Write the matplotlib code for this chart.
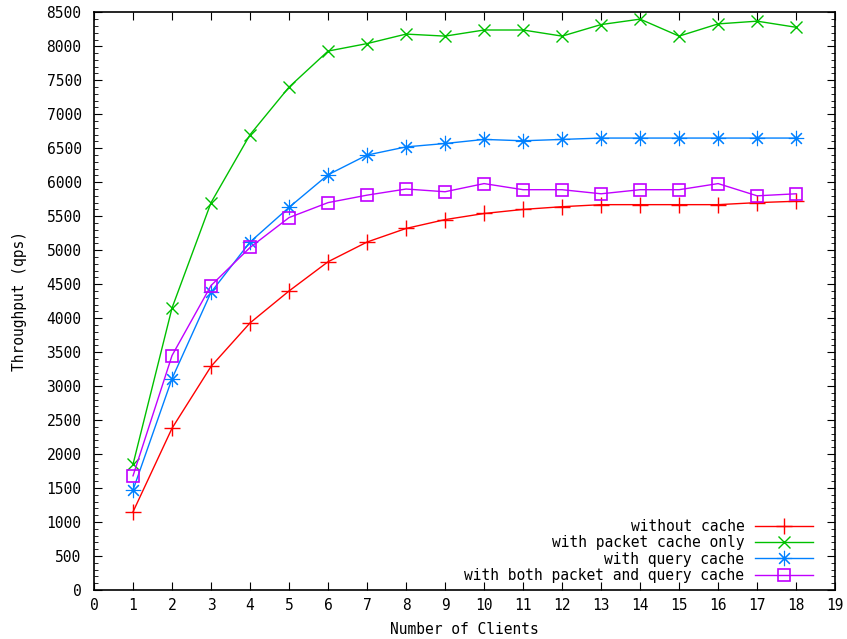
import matplotlib
matplotlib.use('Agg')
import matplotlib.pyplot as plt
from matplotlib.ticker import MultipleLocator

clients = list(range(1, 19))
no_cache = [1150, 2380, 3290, 3930, 4400, 4830, 5120, 5320, 5450, 5540,
            5600, 5640, 5670, 5670, 5670, 5670, 5700, 5720]
packet_cache = [1850, 4150, 5700, 6700, 7400, 7930, 8040, 8180, 8150, 8240,
                8240, 8150, 8320, 8400, 8150, 8330, 8370, 8280]
query_cache = [1470, 3110, 4380, 5120, 5630, 6110, 6400, 6520, 6570, 6630,
               6610, 6630, 6650, 6650, 6650, 6650, 6650, 6650]
both_cache = [1680, 3450, 4480, 5040, 5480, 5700, 5810, 5900, 5860, 5980,
              5890, 5890, 5830, 5890, 5890, 5980, 5800, 5830]

plt.rcParams['font.family'] = 'DejaVu Sans Mono'
plt.rcParams['font.size'] = 10.5

fig = plt.figure(figsize=(8.47, 6.39), dpi=100)
ax = fig.add_axes([0.111, 0.0767, 0.875, 0.904])

ax.plot(clients, no_cache, color='#ff0000', lw=1, marker='+', ms=11, mew=1,
        label='without cache')
ax.plot(clients, packet_cache, color='#00c000', lw=1, marker='x', ms=9, mew=1,
        label='with packet cache only')
ax.plot(clients, query_cache, color='#0080ff', lw=1, marker=(8, 2, 0), ms=11, mew=0.8,
        label='with query cache')
ax.plot(clients, both_cache, color='#c000ff', lw=1, marker='s', ms=9, mew=1.2,
        mfc='none', label='with both packet and query cache')

ax.set_xlim(0, 19)
ax.set_ylim(0, 8500)
ax.xaxis.set_major_locator(MultipleLocator(1))
ax.yaxis.set_major_locator(MultipleLocator(500))
ax.yaxis.set_minor_locator(MultipleLocator(100))
ax.tick_params(which='both', direction='in', top=True, right=True)
ax.tick_params(which='major', length=6)
ax.tick_params(which='minor', length=3)
ax.tick_params(axis='y', which='major', pad=9)
ax.tick_params(axis='x', which='major', pad=6)
for s in ax.spines.values():
    s.set_linewidth(1.2)

ax.set_xlabel('Number of Clients', labelpad=6)
ax.set_ylabel('Throughput (qps)', labelpad=14)

ax.legend(loc='lower right', frameon=False, markerfirst=False,
          handlelength=4.0, handletextpad=0.7, labelspacing=0.1,
          bbox_to_anchor=(0.97, 0.012), borderaxespad=0, borderpad=0,
          fontsize=10.5)

fig.savefig('out.png', dpi=100)
